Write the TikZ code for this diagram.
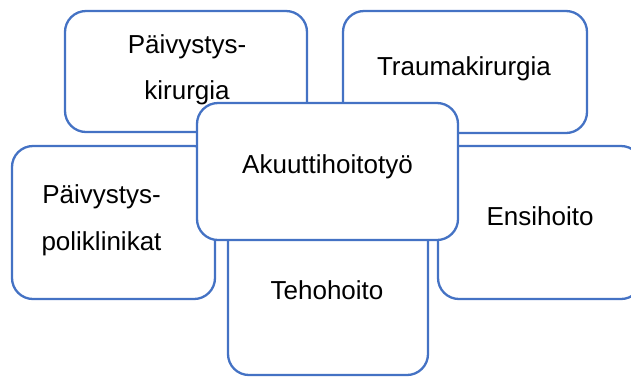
\documentclass[tikz,border=0pt]{standalone}
\usepackage{fontspec}
\setmainfont{Liberation Sans}
\definecolor{boxblue}{HTML}{4472C4}
\begin{document}
\begin{tikzpicture}[x=1pt,y=-1pt,
  card/.style={draw=boxblue, line width=2.3pt, fill=white, rounded corners=21pt,
    rectangle, inner sep=0pt, outer sep=0pt},
  lbl/.style={anchor=base, inner sep=0pt, font=\fontsize{26}{30}\selectfont}]
\useasboundingbox (0,0) rectangle (631,376);
\clip (0,0) rectangle (631,376);
\node[card, minimum width=242pt, minimum height=121pt] (b1) at (186,71.5) {};
\node[card, minimum width=244pt, minimum height=122pt] (b2) at (465,72) {};
\node[card, minimum width=203pt, minimum height=153pt] (b3) at (113.5,222.5) {};
\node[card, minimum width=204pt, minimum height=153pt] (b4) at (540,222.5) {};
\node[card, minimum width=200pt, minimum height=160pt] (b5) at (328,295) {};
\node[card, minimum width=261pt, minimum height=137pt] (b0) at (327.5,171.5) {};
\node[lbl] (t1a) at (187,53) {Päivystys-};
\node[lbl] (t1b) at (187,99) {kirurgia};
\node[lbl] (t2) at (464,75) {Traumakirurgia};
\node[lbl] (t3a) at (101.5,203) {Päivystys-};
\node[lbl] (t3b) at (101.5,250) {poliklinikat};
\node[lbl] (t4) at (540,225) {Ensihoito};
\node[lbl] (t5) at (327,299) {Tehohoito};
\node[lbl] (t0) at (327.5,173) {Akuuttihoitotyö};
\end{tikzpicture}
\end{document}
